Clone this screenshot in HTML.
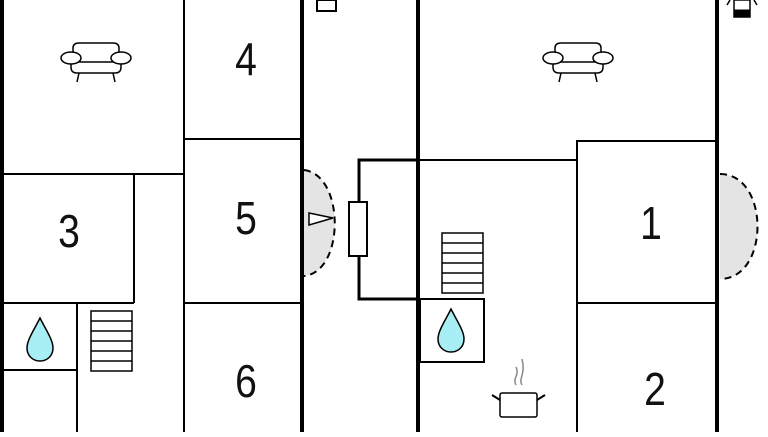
<!DOCTYPE html>
<html><head><style>body{margin:0;background:#fff}</style></head><body>
<svg width="768" height="432" viewBox="0 0 768 432" xmlns="http://www.w3.org/2000/svg" font-family="Liberation Sans, sans-serif">
<rect width="768" height="432" fill="#fff"/>
<g stroke="#000" fill="none">
<line x1="2" y1="0" x2="2" y2="432" stroke-width="4"/>
<line x1="302" y1="0" x2="302" y2="432" stroke-width="4"/>
<line x1="418" y1="0" x2="418" y2="432" stroke-width="4"/>
<line x1="717" y1="0" x2="717" y2="432" stroke-width="4"/>
<polyline points="418,160 359,160 359,299 418,299" stroke-width="3"/>
<g stroke-width="2">
<line x1="4" y1="174" x2="184" y2="174"/>
<line x1="184" y1="0" x2="184" y2="432"/>
<line x1="184" y1="139" x2="300" y2="139"/>
<line x1="184" y1="303" x2="300" y2="303"/>
<line x1="134" y1="174" x2="134" y2="303"/>
<line x1="4" y1="303" x2="134" y2="303"/>
<line x1="4" y1="370" x2="77" y2="370"/>
<line x1="77" y1="303" x2="77" y2="432"/>
<line x1="420" y1="160" x2="577" y2="160"/>
<rect x="577" y="141" width="139" height="162"/>
<line x1="577" y1="303" x2="577" y2="432"/>
<rect x="420" y="299" width="64" height="63"/>
<rect x="317" y="0" width="19" height="11"/>
<rect x="349" y="202" width="18" height="54" fill="#fff"/>
</g>
<path d="M304,170 C345,175 345,272 304,276 Z" fill="#e4e4e4" stroke="none"/>
<path d="M304,170 C345,175 345,272 304,276" stroke-width="2" stroke-dasharray="7,5"/>
<polygon points="309,213 333,218 309,225" fill="#fff" stroke-width="1.5"/>
<path d="M720,174 C770,174 770,279 720,279 Z" fill="#e4e4e4" stroke="none"/>
<path d="M720,174 C770,174 770,279 720,279" stroke-width="2" stroke-dasharray="7,5"/>
<g stroke-width="1.5">
<rect x="91" y="311" width="41" height="60"/>
<line x1="91" y1="321" x2="132" y2="321"/><line x1="91" y1="331" x2="132" y2="331"/><line x1="91" y1="341" x2="132" y2="341"/><line x1="91" y1="351" x2="132" y2="351"/><line x1="91" y1="361" x2="132" y2="361"/>
<rect x="442" y="233" width="41" height="60"/>
<line x1="442" y1="243" x2="483" y2="243"/><line x1="442" y1="253" x2="483" y2="253"/><line x1="442" y1="263" x2="483" y2="263"/><line x1="442" y1="273" x2="483" y2="273"/><line x1="442" y1="283" x2="483" y2="283"/>
</g>
<path d="M40,318 C34,330 27,340 27,348 C27,356 33,361 40,361 C47,361 53,356 53,348 C53,340 46,330 40,318 Z" fill="#a8eef5" stroke-width="1.5"/>
<path d="M451,309 C445,321 438,331 438,339 C438,347 444,352 451,352 C458,352 464,347 464,339 C464,331 457,321 451,309 Z" fill="#a8eef5" stroke-width="1.5"/>
<g stroke-width="1.5" fill="#fff">
<g transform="translate(96,60)">
<path d="M-23,-3 L-23,-12 Q-23,-17 -17,-17 L17,-17 Q23,-17 23,-12 L23,-3"/>
<path d="M-25,2 L-25,7 Q-25,13 -19,13 L19,13 Q25,13 25,7 L25,2"/>
<line x1="-18" y1="2" x2="18" y2="2"/>
<ellipse cx="-25" cy="-2" rx="10" ry="6"/><ellipse cx="25" cy="-2" rx="10" ry="6"/>
<line x1="-17" y1="13" x2="-19" y2="22"/><line x1="17" y1="13" x2="19" y2="22"/>
</g>
<g transform="translate(578,60)">
<path d="M-23,-3 L-23,-12 Q-23,-17 -17,-17 L17,-17 Q23,-17 23,-12 L23,-3"/>
<path d="M-25,2 L-25,7 Q-25,13 -19,13 L19,13 Q25,13 25,7 L25,2"/>
<line x1="-18" y1="2" x2="18" y2="2"/>
<ellipse cx="-25" cy="-2" rx="10" ry="6"/><ellipse cx="25" cy="-2" rx="10" ry="6"/>
<line x1="-17" y1="13" x2="-19" y2="22"/><line x1="17" y1="13" x2="19" y2="22"/>
</g>
</g>
<rect x="500" y="393" width="37" height="24" rx="2" stroke-width="1.5"/>
<path d="M500,400 L492,395 M537,400 L545,395" stroke-width="2"/>
<path d="M516,385 C512,378 520,375 516,367 M522,385 C518,378 526,375 522,359" stroke="#888" stroke-width="1.5"/>
<rect x="734" y="0" width="16" height="17" fill="#fff" stroke-width="1.5"/>
<rect x="734" y="10" width="16" height="7" fill="#000"/>
<path d="M730,0 L727,5 M754,0 L757,5" stroke-width="1.5"/>
</g>
<g font-size="46" text-anchor="middle" fill="#111">
<text transform="translate(246,75) scale(0.85,1)">4</text>
<text transform="translate(246,234) scale(0.85,1)">5</text>
<text transform="translate(246,397) scale(0.85,1)">6</text>
<text transform="translate(69,247) scale(0.85,1)">3</text>
<text transform="translate(651,239) scale(0.85,1)">1</text>
<text transform="translate(655,405) scale(0.85,1)">2</text>
</g>
</svg>
</body></html>
